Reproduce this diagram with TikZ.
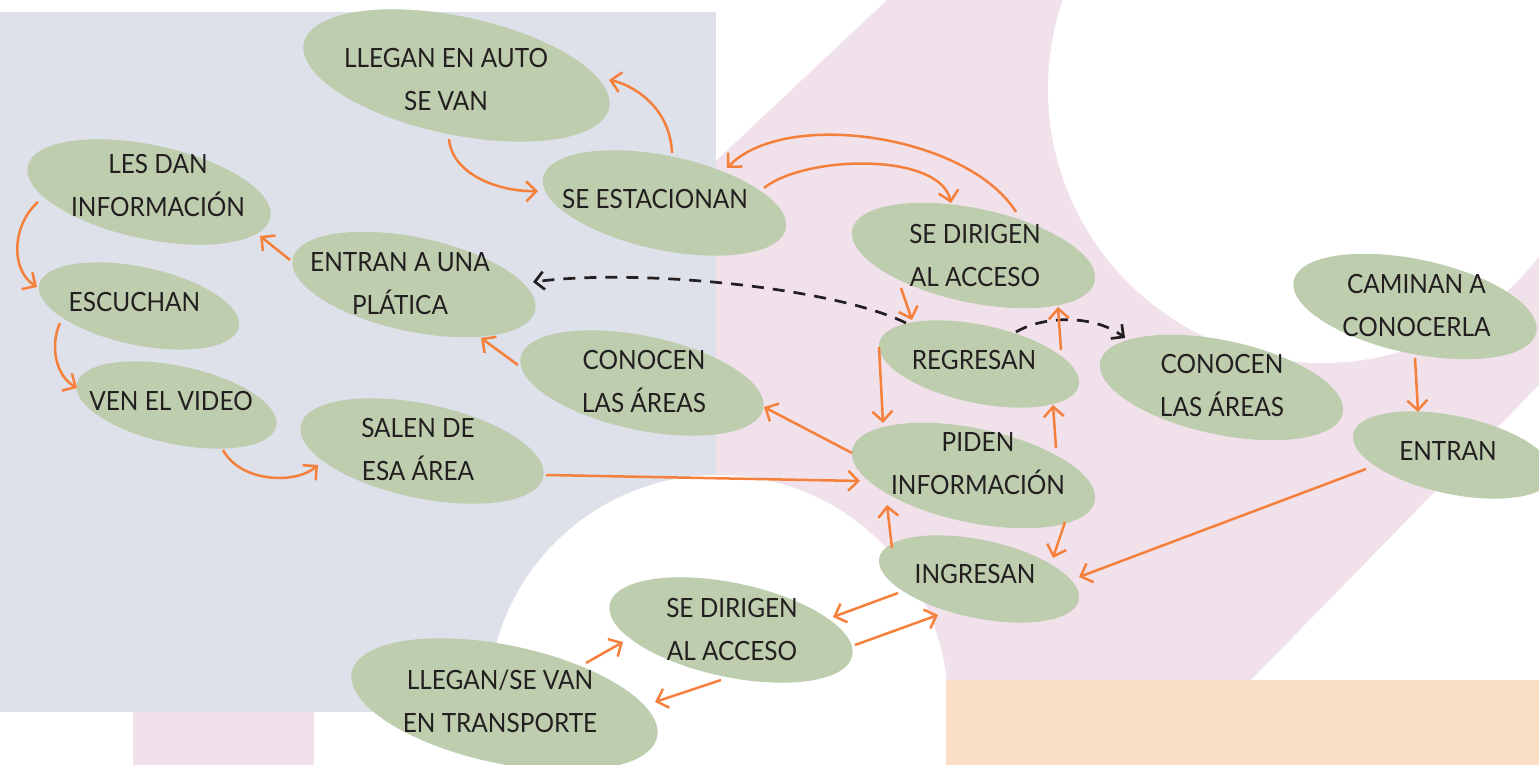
\documentclass[tikz,border=0pt]{standalone}
\usepackage{fontspec}
\setmainfont{Lato}[FakeStretch=0.92]
\usetikzlibrary{shapes.geometric,arrows.meta,calc}
\definecolor{lav}{RGB}{222,224,234}
\definecolor{pnk}{RGB}{240,225,235}
\definecolor{pch}{RGB}{250,223,198}
\definecolor{ell}{RGB}{189,205,174}
\definecolor{orng}{RGB}{245,128,60}
\definecolor{txtc}{RGB}{35,31,32}
\begin{document}
\begin{tikzpicture}[x=1pt,y=1pt,
  bub/.style={ellipse, fill=ell, inner sep=0pt, rotate=-12},
  bubL/.style={bub, minimum width=248pt, minimum height=94pt},
  bubS/.style={bub, minimum width=204pt, minimum height=78pt},
  bubX/.style={bub, minimum width=312pt, minimum height=118pt},
  lbl/.style={text=txtc, align=center, inner sep=0pt, font=\fontsize{26.5}{43}\selectfont},
  arr/.style={draw=orng, line width=2.5pt, -{Straight Barb[length=10pt,width=20pt]}},
  dsh/.style={draw=txtc, line width=2.7pt, dash pattern=on 12pt off 9pt, -{Straight Barb[length=9pt,width=18pt]}}]
\useasboundingbox (0,0) rectangle (1539,765);
\clip (0,0) rectangle (1539,765);
% background
\fill[white] (0,0) rectangle (1539,765);
\fill[pnk] (887,765) -- (1539,765) -- (1539,380) -- (1251,85) -- (700,85) -- (700,589) -- cycle;
\fill[white] (1322,676) circle[radius=274];
\fill[pnk] (133,0) rectangle (314,65);
\fill[lav] (0,53) rectangle (716,753);
\fill[white] (718,60) circle[radius=230];
\fill[pch] (946,0) rectangle (1539,85);
% ellipses
\node[bubX] (car) at (456.5,689.5) {};
\node[bubL] (est) at (664.5,562) {};
\node[bubL] (lesdan) at (149,573) {};
\node[bubL] (platica) at (414,480.5) {};
\node[bubS] (escuchan) at (139,459) {};
\node[bubS] (video) at (176.5,360) {};
\node[bubL] (conocenL) at (642,382) {};
\node[bubL] (salen) at (422,314) {};
\node[bubL] (dirigT) at (973.5,509.5) {};
\node[bubS] (regresan) at (979,401) {};
\node[bubL] (conocenR) at (1221.5,377.5) {};
\node[bubL] (caminan) at (1415,458.5) {};
\node[bubS] (entran) at (1453,310) {};
\node[bubL] (piden) at (973.5,289.5) {};
\node[bubS] (ingresan) at (979,186) {};
\node[bubL] (dirigB) at (731,135) {};
\node[bubX] (transp) at (504.5,60.5) {};
% texts
\node[lbl] (tcar) at (446,685) {LLEGAN EN AUTO\\SE VAN};
\node[lbl] (test) at (655,566) {SE ESTACIONAN};
\node[lbl] (tlesdan) at (158,579) {LES DAN\\INFORMACIÓN};
\node[lbl] (tplatica) at (400,481) {ENTRAN A UNA\\PLÁTICA};
\node[lbl] (tescuchan) at (134.5,462.5) {ESCUCHAN};
\node[lbl] (tvideo) at (171,364) {VEN EL VIDEO};
\node[lbl] (tconocenL) at (644,383.5) {CONOCEN\\LAS ÁREAS};
\node[lbl] (tsalen) at (418,315) {SALEN DE\\ESA ÁREA};
\node[lbl] (tdirigT) at (975,509) {SE DIRIGEN\\AL ACCESO};
\node[lbl] (tregresan) at (974,405) {REGRESAN};
\node[lbl] (tconocenR) at (1222,379) {CONOCEN\\LAS ÁREAS};
\node[lbl] (tcaminan) at (1416.5,459) {CAMINAN A\\CONOCERLA};
\node[lbl] (tentran) at (1448,313.5) {ENTRAN};
\node[lbl] (tpiden) at (978,301) {PIDEN\\INFORMACIÓN};
\node[lbl] (tingresan) at (975,190.5) {INGRESAN};
\node[lbl] (tdirigB) at (732,135) {SE DIRIGEN\\AL ACCESO};
\node[lbl] (ttransp) at (500,64) {LLEGAN/SE VAN\\EN TRANSPORTE};
% connectors
\draw[arr] ($(est)+(7.5,50)$) .. controls +(-2,48) and +(21,-4) .. ($(car)+(152.5,-4.5)$);
\draw[arr] ($(car)+(-7.5,-63.5)$) .. controls +(3,-36) and +(-38,-1) .. ($(est)+(-126.5,12)$);
\draw[arr] ($(est)+(99.5,15)$) .. controls +(41,33) and +(-11,51) .. ($(dirigT)+(-22.5,52.5)$);
\draw[arr] ($(dirigT)+(42.5,43.5)$) .. controls +(-48,77) and +(58,60) .. ($(est)+(62.5,35)$);
\draw[arr] ($(platica)+(-124,24.5)$) -- ($(lesdan)+(111,-44)$);
\draw[arr] ($(lesdan)+(-111,-10)$) .. controls +(-26,-23) and +(-27,17) .. ($(escuchan)+(-102,19)$);
\draw[arr] ($(escuchan)+(-79,-17)$) .. controls +(-10,-22) and +(-22,13) .. ($(video)+(-99.5,17)$);
\draw[arr] ($(video)+(46.5,-45)$) .. controls +(17,-32) and +(-23,-20) .. ($(salen)+(-104,-14)$);
\draw[arr] ($(conocenL)+(-124,18)$) -- ($(platica)+(67,-53.5)$);
\draw[arr] ($(piden)+(-121.5,22.5)$) -- ($(conocenL)+(122,-24)$);
\draw[arr] ($(salen)+(124,-24)$) -- ($(piden)+(-113.5,-5.5)$);
\draw[arr] ($(dirigT)+(-72.5,-32.5)$) -- ($(regresan)+(-67,44)$);
\draw[dsh] ($(regresan)+(37,32)$) .. controls +(29,17) and +(-30,23) .. ($(conocenR)+(-96.5,49.5)$);
\draw[dsh] ($(regresan)+(-73,41)$) .. controls +(-71,35) and +(107,14) .. ($(platica)+(119,2.5)$);
\draw[arr] ($(regresan)+(82,14)$) -- ($(dirigT)+(84.5,-51.5)$);
\draw[arr] ($(regresan)+(-100,17)$) -- ($(piden)+(-90.5,52.5)$);
\draw[arr] ($(piden)+(82.5,27.5)$) -- ($(regresan)+(74,-41)$);
\draw[arr] ($(piden)+(91.5,-46.5)$) -- ($(ingresan)+(74,21)$);
\draw[arr] ($(ingresan)+(-87,31)$) -- ($(piden)+(-86.5,-29.5)$);
\draw[arr] ($(entran)+(-87,-14)$) -- ($(ingresan)+(100,2)$);
\draw[arr] ($(caminan)+(0,-51.5)$) -- ($(entran)+(-35,43)$);
\draw[arr] ($(ingresan)+(-81,-14)$) -- ($(dirigB)+(102,13)$);
\draw[arr] ($(dirigB)+(124,-15)$) -- ($(ingresan)+(-41,-36)$);
\draw[arr] ($(transp)+(81.5,41.5)$) -- ($(dirigB)+(-108,-12)$);
\draw[arr] ($(dirigB)+(-10,-50)$) -- ($(transp)+(150.5,2.5)$);
\end{tikzpicture}
\end{document}
